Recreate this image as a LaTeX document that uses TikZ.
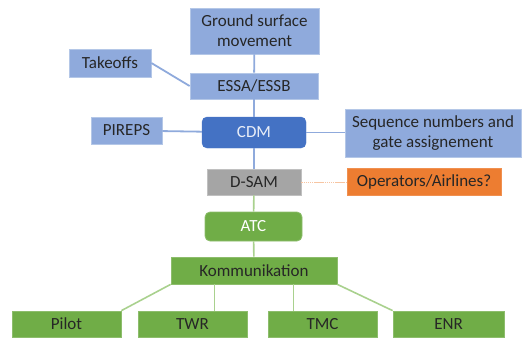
\documentclass[tikz,border=0pt]{standalone}
\usepackage{fontspec}
\setmainfont{Carlito}
\usetikzlibrary{positioning}

\definecolor{paleblue}{HTML}{8FAADC}
\definecolor{paleedge}{HTML}{B4C7E7}
\definecolor{cdmblue}{HTML}{4472C4}
\definecolor{atcgreen}{HTML}{70AD47}
\definecolor{linegreen}{HTML}{A9D18E}
\definecolor{samgray}{HTML}{A5A5A5}
\definecolor{opsorange}{HTML}{ED7D31}

\begin{document}
\begin{tikzpicture}[x=1pt,y=-1pt,
  every node/.append style={font=\fontsize{17}{20}\selectfont,text=black!85,inner sep=0pt,align=center},
  bluebox/.style={fill=paleblue,draw=paleedge,line width=0.8pt},
  greenbox/.style={fill=atcgreen,draw=atcgreen!80!white,line width=0.8pt},
  bluelink/.style={draw=paleblue,line width=1.8pt},
  greenlink/.style={draw=linegreen,line width=1.6pt}]
  \useasboundingbox (0,0) rectangle (522,338);

  % upper part
  \node[bluebox,minimum width=129pt,minimum height=46pt] (ground) at (254.5,31) {Ground surface\\movement};
  \node[bluebox,minimum width=128pt,minimum height=26pt] (essa) at (254,86) {ESSA/ESSB};
  \node[bluebox,minimum width=82pt,minimum height=28pt] (takeoffs) at (110,63) {Takeoffs};
  \node[fill=cdmblue,draw=cdmblue,rounded corners=5pt,minimum width=104pt,minimum height=31pt,text=white!88!cdmblue] (cdm) at (254,132.5) {CDM};
  \node[bluebox,minimum width=71pt,minimum height=27pt] (pireps) at (126.5,130.5) {PIREPS};
  \node[bluebox,minimum width=176pt,minimum height=48pt] (seq) at (433,133) {Sequence numbers and\\gate assignement};

  % middle
  \node[fill=samgray,draw=samgray!70!white,line width=0.8pt,minimum width=94pt,minimum height=26pt] (dsam) at (254,182) {D-SAM};
  \node[fill=opsorange,draw=opsorange!85!white,line width=0.8pt,minimum width=154pt,minimum height=27pt] (ops) at (424,181.5) {Operators/Airlines?};
  \node[greenbox,rounded corners=5pt,minimum width=97pt,minimum height=29pt,text=white] (atc) at (253.5,226.5) {ATC};

  % lower part
  \node[greenbox,minimum width=166pt,minimum height=27pt] (komm) at (254,270.5) {Kommunikation};
  \node[greenbox,minimum width=109pt,minimum height=26pt] (pilot) at (66.5,324) {Pilot};
  \node[greenbox,minimum width=109pt,minimum height=26pt] (twr) at (192.5,324) {TWR};
  \node[greenbox,minimum width=109pt,minimum height=26pt] (tmc) at (322.5,324) {TMC};
  \node[greenbox,minimum width=111pt,minimum height=26pt] (enr) at (448.5,324) {ENR};

  \draw[bluelink] (ground) -- (essa);
  \draw[bluelink] (essa) -- (cdm);
  \draw[bluelink] (cdm) -- (dsam);
  \draw[bluelink] (takeoffs.east) -- (essa.west);
  \draw[bluelink] (pireps) -- (cdm);
  \draw[bluelink] (cdm.east) -- (cdm.east -| seq.west);
  \draw[draw=opsorange!45,line width=0.7pt,dash pattern=on 1.5pt off 0.6pt] (dsam) -- (dsam -| ops.west);
  \draw[greenlink] (dsam) -- (atc);
  \draw[greenlink] (atc) -- (komm);
  \draw[greenlink] (komm.south west) -- (pilot.north east);
  \draw[greenlink] ([xshift=-39.5pt]komm.south) -- ([xshift=-39.5pt]komm.south |- twr.north);
  \draw[greenlink] ([xshift=39.5pt]komm.south) -- ([xshift=39.5pt]komm.south |- tmc.north);
  \draw[greenlink] (komm.south east) -- (enr.north west);
\end{tikzpicture}
\end{document}
